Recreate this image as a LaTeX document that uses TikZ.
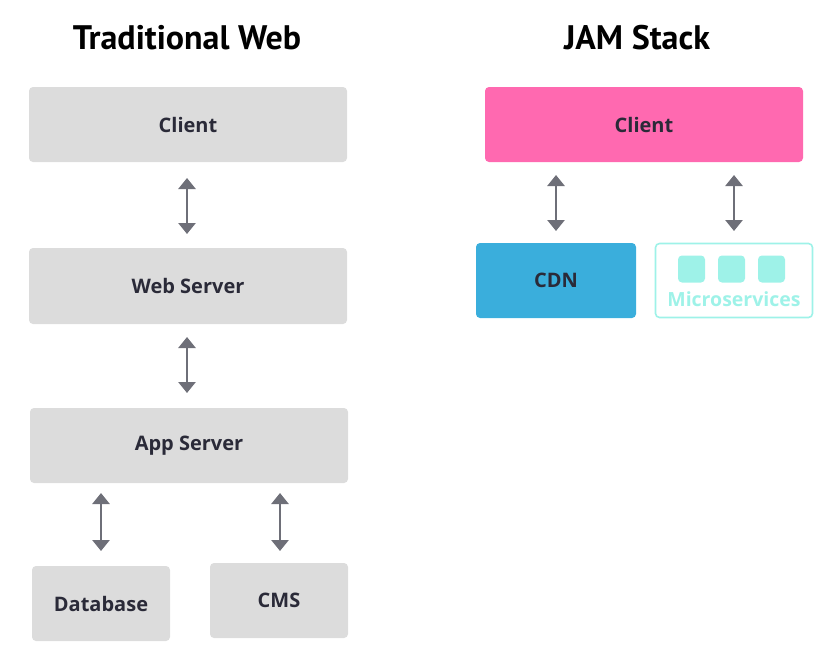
\documentclass[tikz,border=0pt]{standalone}
\usepackage{fontspec}
\setmainfont{Open Sans}
\newfontfamily\titlefont{PT Sans}
\usetikzlibrary{arrows.meta}
\definecolor{boxgray}{HTML}{DCDCDC}
\definecolor{labelink}{HTML}{2A2A38}
\definecolor{arrowgray}{HTML}{6E6F78}
\definecolor{jampink}{HTML}{FF69B0}
\definecolor{cdnblue}{HTML}{3AAEDC}
\definecolor{microcyan}{HTML}{9EF2E8}
\tikzset{
  tier/.style={rounded corners=4pt, inner sep=0pt, font=\bfseries\fontsize{20}{24}\selectfont, text=labelink},
  graybox/.style={tier, fill=boxgray},
  link/.style={draw=arrowgray, line width=2.8pt, {Triangle[width=17pt,length=11pt]}-{Triangle[width=17pt,length=11pt]}},
  heading/.style={font=\titlefont\bfseries\fontsize{34}{38}\selectfont, text=black},
  tile/.style={fill=microcyan, rounded corners=4pt}
}
\begin{document}
\begin{tikzpicture}[x=1pt,y=-1pt]
\useasboundingbox (0,0) rectangle (837,665);

% column headings
\node[heading] (tw) at (187,38) {Traditional Web};
\node[heading] (js) at (637,38) {JAM Stack};

% traditional stack
\node[graybox, minimum width=318pt, minimum height=75pt] (client) at (188,124.5) {Client};
\node[graybox, minimum width=318pt, minimum height=76pt] (web) at (188,286) {Web Server};
\node[graybox, minimum width=318pt, minimum height=75pt] (app) at (189,445.5) {App Server};
\node[graybox, minimum width=138pt, minimum height=75pt] (db) at (101,603.5) {Database};
\node[graybox, minimum width=138pt, minimum height=75pt] (cms) at (279,600.5) {CMS};

\coordinate (a1t) at (187,178); \coordinate (a1b) at (187,234);
\coordinate (a2t) at (187,337); \coordinate (a2b) at (187,393);
\coordinate (a3t) at (101,493); \coordinate (a3b) at (101,551);
\coordinate (a4t) at (280,493); \coordinate (a4b) at (280,551);
\draw[link] (a1t) -- (a1b);
\draw[link] (a2t) -- (a2b);
\draw[link] (a3t) -- (a3b);
\draw[link] (a4t) -- (a4b);

% JAM stack
\node[tier, fill=jampink, minimum width=318pt, minimum height=75pt] (jclient) at (644,124.5) {Client};
\node[tier, fill=cdnblue, minimum width=160pt, minimum height=75pt] (cdn) at (556,280.5) {CDN};
\node[tier, draw=microcyan, line width=1.6pt, minimum width=157pt, minimum height=74pt] (micro) at (734,280.5) {};
\node[tile, minimum size=27pt, inner sep=0pt] (t1) at (691.5,269) {};
\node[tile, minimum size=27pt, inner sep=0pt] (t2) at (731.5,269) {};
\node[tile, minimum size=27pt, inner sep=0pt] (t3) at (771.5,269) {};
\node[font=\bfseries\fontsize{19.5}{22}\selectfont, text=microcyan, inner sep=0pt] (mlabel) at (734,299) {Microservices};

\coordinate (a5t) at (556,175); \coordinate (a5b) at (556,231);
\coordinate (a6t) at (734,175); \coordinate (a6b) at (734,231);
\draw[link] (a5t) -- (a5b);
\draw[link] (a6t) -- (a6b);
\end{tikzpicture}
\end{document}
